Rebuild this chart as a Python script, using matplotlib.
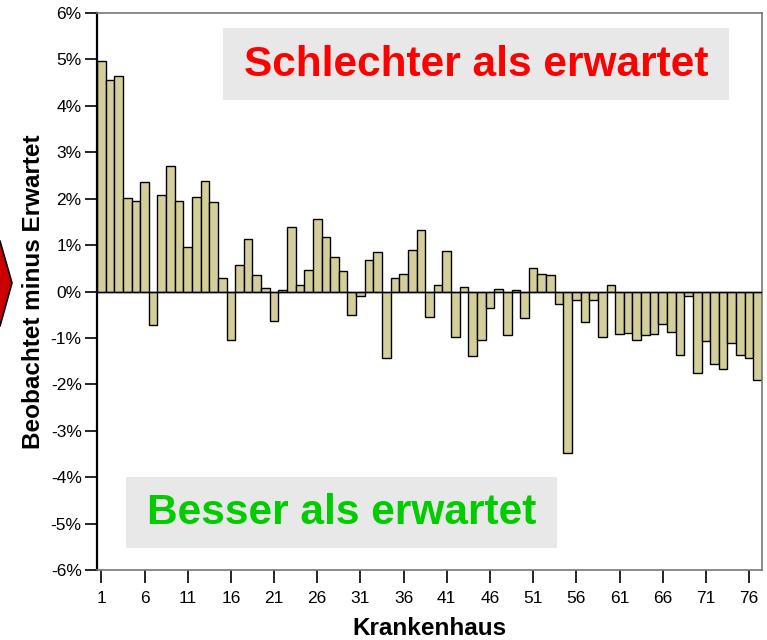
import numpy as np
import matplotlib
matplotlib.use("Agg")
import matplotlib.pyplot as plt
from matplotlib.patches import Polygon, Rectangle

# Beobachtet minus Erwartet, in Prozentpunkten, Krankenhaus 1..77
hospitals = list(range(1, 78))
diff_pct = [
    4.97, 4.55, 4.64, 2.02, 1.96, 2.36, -0.73, 2.08, 2.70, 1.95,
    0.96, 2.03, 2.38, 1.93, 0.30, -1.05, 0.58, 1.13, 0.35, 0.08,
    -0.64, 0.04, 1.38, 0.13, 0.47, 1.56, 1.18, 0.74, 0.45, -0.51,
    -0.09, 0.68, 0.85, -1.43, 0.29, 0.38, 0.90, 1.33, -0.56, 0.14,
    0.87, -0.98, 0.10, -1.40, -1.05, -0.35, 0.06, -0.94, 0.03, -0.58,
    0.50, 0.37, 0.36, -0.26, -3.48, -0.19, -0.65, -0.19, -0.98, 0.13,
    -0.92, -0.89, -1.04, -0.94, -0.92, -0.69, -0.87, -1.36, -0.09, -1.75,
    -1.06, -1.56, -1.67, -1.12, -1.36, -1.43, -1.91,
]
xtick_vals = list(range(1, 77, 5))
ytick_vals = list(range(-6, 7))

plt.rcParams['font.family'] = ['Liberation Sans', 'DejaVu Sans']

W, H = 767, 640
fig = plt.figure(figsize=(W / 100, H / 100), dpi=100)
ax = fig.add_axes([97 / W, 1 - 570 / H, 665 / W, 557 / H])

ax.bar(hospitals, diff_pct, width=1.0, color='#D4CF9A', edgecolor='black', linewidth=1.0, zorder=2)
ax.axhline(0, color='black', linewidth=1.0, zorder=3)

ax.set_xlim(0.5, 77.5)
ax.set_ylim(-6, 6)
ax.set_xticks(xtick_vals)
ax.set_yticks(ytick_vals)
ax.set_yticklabels([f"{v}%" for v in ytick_vals])
ax.tick_params(axis='both', labelsize=12.5, length=9, width=1.2, direction='out', color='black')
ax.tick_params(axis='x', pad=6)
ax.tick_params(axis='y', pad=2)

ax.spines['left'].set_linewidth(1.6)
ax.spines['left'].set_color('black')
for s in ['top', 'right', 'bottom']:
    ax.spines[s].set_color('#777777')
    ax.spines[s].set_linewidth(1.2)

ax.set_ylabel("Beobachtet minus Erwartet", fontsize=17.5, fontweight='bold', labelpad=4)
ax.set_xlabel("Krankenhaus", fontsize=17.5, fontweight='bold', labelpad=8)


def label_box(x0, y0, x1, y1, text, color):
    # Box in Pixelkoordinaten (von oben gemessen)
    fig.patches.append(Rectangle((x0 / W, 1 - y1 / H), (x1 - x0) / W, (y1 - y0) / H,
                                 transform=fig.transFigure, facecolor='#E8E8E8',
                                 edgecolor='none', zorder=5))
    fig.text((x0 + x1) / 2 / W, 1 - ((y0 + y1) / 2 + 1) / H, text, color=color,
             fontsize=30.5, fontweight='bold', ha='center', va='center', zorder=6)


label_box(223, 28, 729, 100, "Schlechter als erwartet", '#FF0000')
label_box(126, 477, 557, 548, "Besser als erwartet", '#00CC00')

# roter Pfeil am linken Rand
arrow = Polygon([(-8 / W, 1 - 238 / H), (0 / W, 1 - 241 / H), (12 / W, 1 - 283 / H),
                 (0 / W, 1 - 326 / H), (-8 / W, 1 - 329 / H)],
                closed=True, transform=fig.transFigure, facecolor='#CC0000',
                edgecolor='black', linewidth=1.2, clip_on=False)
fig.patches.append(arrow)

fig.savefig("out.png", dpi=100)
